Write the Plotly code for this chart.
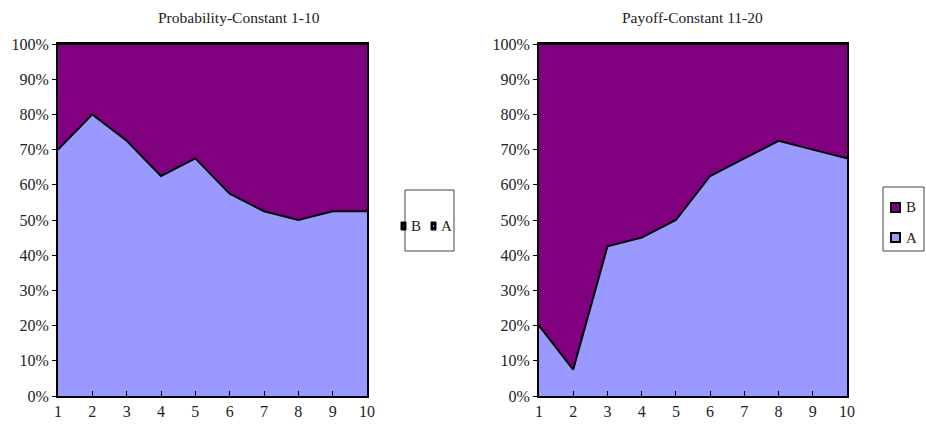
import plotly.graph_objects as go

rounds = [1, 2, 3, 4, 5, 6, 7, 8, 9, 10]
prob_A = [70, 80, 72.5, 62.5, 67.5, 57.5, 52.5, 50, 52.5, 52.5]
prob_B = [30, 20, 27.5, 37.5, 32.5, 42.5, 47.5, 50, 47.5, 47.5]
pay_A = [20, 7.5, 42.5, 45, 50, 62.5, 67.5, 72.5, 70, 67.5]
pay_B = [80, 92.5, 57.5, 55, 50, 37.5, 32.5, 27.5, 30, 32.5]
y_ticks = [0, 10, 20, 30, 40, 50, 60, 70, 80, 90, 100]
y_labels = [f"{v}%" for v in y_ticks]
titles = ["Probability-Constant 1-10", "Payoff-Constant 11-20"]
series_names = ["A", "B"]

COL_A = "#9999FF"
COL_B = "#800080"
FONT = "Liberation Serif"
TXT = "#222"
W, H = 926, 425

fig = go.Figure()

def add_pair(A, B, xa, ya):
    fig.add_trace(go.Scatter(x=rounds, y=A, name=series_names[0], stackgroup="s" + xa,
                             mode="lines", line=dict(color="black", width=2),
                             fillcolor=COL_A, xaxis=xa, yaxis=ya, showlegend=False))
    fig.add_trace(go.Scatter(x=rounds, y=B, name=series_names[1], stackgroup="s" + xa,
                             mode="lines", line=dict(color="black", width=2),
                             fillcolor=COL_B, xaxis=xa, yaxis=ya, showlegend=False))

add_pair(prob_A, prob_B, "x", "y")
add_pair(pay_A, pay_B, "x2", "y2")

ydom = [1 - 396 / H, 1 - 44 / H]
axis_common = dict(showline=True, linecolor="black", linewidth=2, mirror=True,
                   showgrid=False, zeroline=False, automargin=False,
                   tickfont=dict(family=FONT, size=16, color=TXT))

def px(x):
    return x / W

def py(y):
    return 1 - y / H

shapes = []
annotations = []

def rect(x0, y0, x1, y1, line_color, line_w, fill):
    shapes.append(dict(type="rect", xref="paper", yref="paper",
                       x0=px(x0), x1=px(x1), y0=py(y1), y1=py(y0),
                       line=dict(color=line_color, width=line_w), fillcolor=fill,
                       layer="above"))

def label(text, x, y, anchor="left", size=15):
    annotations.append(dict(text=text, x=px(x), y=py(y), xref="paper", yref="paper",
                            xanchor=anchor, yanchor="middle", showarrow=False,
                            font=dict(family=FONT, size=size, color=TXT)))

# Legend 1 (horizontal, B then A)
rect(405, 190, 454, 251, "#444", 1, "white")
rect(401, 222, 406, 230, "black", 1, "black")
rect(403, 225, 404, 227, COL_B, 0, COL_B)
label(series_names[1], 409, 226)
rect(431, 222, 436, 230, "black", 1, "black")
rect(433, 225, 434, 227, COL_A, 0, COL_A)
label(series_names[0], 439, 226)

# Legend 2 (vertical, B above A)
rect(883, 187, 924, 251, "#444", 1, "white")
rect(891, 203, 900, 212, "black", 2, COL_B)
label(series_names[1], 904, 207)
rect(891, 233, 900, 242, "black", 2, COL_A)
label(series_names[0], 904, 238)

# Titles
label(titles[0], 239, 17, anchor="center", size=15.5)
label(titles[1], 692, 17, anchor="center", size=15.5)

fig.update_layout(
    width=W, height=H,
    margin=dict(l=0, r=0, t=0, b=0),
    paper_bgcolor="white", plot_bgcolor="white",
    font=dict(family=FONT, size=15, color=TXT),
    showlegend=False,
    xaxis=dict(domain=[px(58), px(367)], range=[1, 10], tickvals=rounds,
               ticks="inside", ticklen=5, tickcolor="black", anchor="y", **axis_common),
    yaxis=dict(domain=ydom, range=[0, 100], tickvals=y_ticks, ticktext=y_labels,
               ticks="outside", ticklen=4, tickcolor="black", anchor="x", **axis_common),
    xaxis2=dict(domain=[px(539), px(847)], range=[1, 10], tickvals=rounds,
                ticks="inside", ticklen=5, tickcolor="black", anchor="y2", **axis_common),
    yaxis2=dict(domain=ydom, range=[0, 100], tickvals=y_ticks, ticktext=y_labels,
                ticks="outside", ticklen=4, tickcolor="black", anchor="x2", **axis_common),
    shapes=shapes,
    annotations=annotations,
)

fig.write_html("out.html", config={"displayModeBar": False},
               post_script="document.body.style.margin='0px';document.body.style.overflow='hidden';")
